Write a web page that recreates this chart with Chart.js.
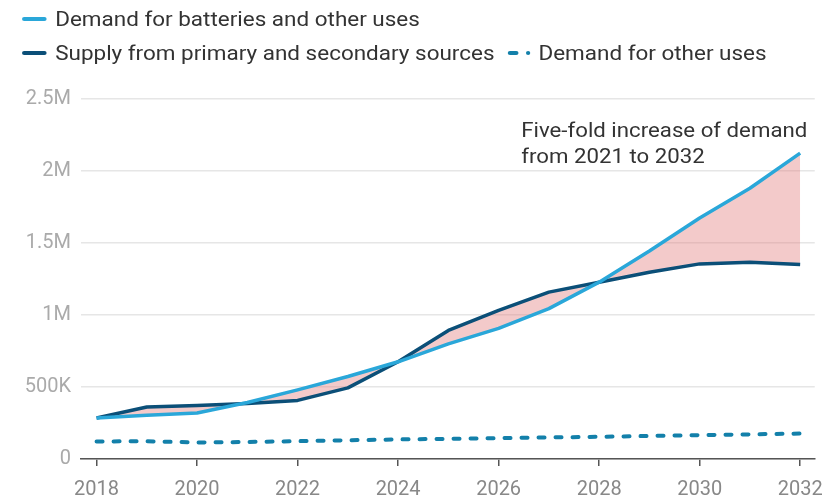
<!DOCTYPE html>
<html>
<head>
<meta charset="utf-8">
<script src="https://cdn.jsdelivr.net/npm/chart.js@4/dist/chart.umd.min.js"></script>
<style>
  html, body { margin: 0; padding: 0; background: #fff; }
  #wrap { position: relative; width: 835px; height: 498px; }
  #legend { position: absolute; left: 22px; top: 2px; font-family: Roboto, sans-serif; font-size: 21px; color: #333;
            transform: scaleX(1.07); transform-origin: 0 0; white-space: nowrap; }
  .row { display: flex; align-items: center; height: 34px; }
  .item { display: flex; align-items: center; margin-right: 12px; }
  .mk { display: inline-block; width: 23px; height: 4px; border-radius: 2px; margin-right: 8px; }
  .dash { display: inline-block; height: 4px; border-radius: 2px; background: #1380aa; }
</style>
</head>
<body>
<div id="wrap">
  <canvas id="chart" width="835" height="498"></canvas>
  <div id="legend">
    <div class="row">
      <div class="item"><span class="mk" style="background:#2aa7d9"></span>Demand for batteries and other uses</div>
    </div>
    <div class="row">
      <div class="item"><span class="mk" style="background:#0b4f78"></span>Supply from primary and secondary sources</div>
      <div class="item"><span class="dash" style="width:10px;margin-right:7px"></span><span class="dash" style="width:4px;margin-right:8px"></span>Demand for other uses</div>
    </div>
  </div>
</div>
<script>
  // values (tonnes)
  var years = [2018, 2019, 2020, 2021, 2022, 2023, 2024, 2025, 2026, 2027, 2028, 2029, 2030, 2031, 2032];
  var demandTotal = [285000, 303000, 319000, 392000, 480000, 573000, 675000, 800000, 907000, 1044000, 1228000, 1445000, 1674000, 1880000, 2124000];
  var supply = [285000, 361000, 372000, 386000, 407000, 494000, 675000, 893000, 1032000, 1159000, 1228000, 1297000, 1355000, 1366000, 1350000];
  var demandOther = [122000, 123000, 115000, 118000, 124000, 130000, 136000, 140000, 145000, 150000, 154000, 160000, 166000, 171000, 177000];
  var tickYears = [2018, 2020, 2022, 2024, 2026, 2028, 2030, 2032];
  var yTicks = [0, 500000, 1000000, 1500000, 2000000, 2500000];
  var noteLines = ['Five-fold increase of demand', 'from 2021 to 2032'];

  function points(vals) {
    return years.map(function(yr, i) {
      return { x: yr, y: vals[i] };
    });
  }

  function fmt(v) {
    if (v === 0) return '0';
    if (v >= 1000000) return (v / 1000000) + 'M';
    return (v / 1000) + 'K';
  }

  var pink = 'rgba(226,122,122,0.4)';

  var notePlugin = {
    id: 'note',
    afterDatasetsDraw: function(chart) {
      var ctx = chart.ctx;
      var x = chart.scales.x.getPixelForValue(2026.45);
      var y = chart.scales.y.getPixelForValue(2237000);
      ctx.save();
      ctx.translate(x, y);
      ctx.scale(1.14, 1);
      ctx.font = '19.5px Roboto';
      ctx.fillStyle = '#333';
      ctx.textBaseline = 'alphabetic';
      ctx.textAlign = 'left';
      noteLines.forEach(function(t, i) {
        ctx.fillText(t, 0, i * 26);
      });
      ctx.restore();
    }
  };

  new Chart(document.getElementById('chart'), {
    type: 'line',
    data: {
      datasets: [{
        label: 'Demand for batteries and other uses',
        data: points(demandTotal),
        borderColor: '#2aa7d9',
        borderWidth: 3.5,
        fill: { target: 1, above: pink, below: pink }
      }, {
        label: 'Supply from primary and secondary sources',
        data: points(supply),
        borderColor: '#0b4f78',
        borderWidth: 3.5,
        fill: false
      }, {
        label: 'Demand for other uses',
        data: points(demandOther),
        borderColor: '#1380aa',
        borderWidth: 4,
        borderDash: [6, 11],
        borderCapStyle: 'round',
        fill: false
      }]
    },
    options: {
      responsive: false,
      devicePixelRatio: 1,
      animation: false,
      layout: { padding: { top: 99, right: 18, left: 0, bottom: 0 } },
      elements: {
        point: { radius: 0, hoverRadius: 0 },
        line: { tension: 0, borderJoinStyle: 'round' }
      },
      plugins: {
        legend: { display: false },
        tooltip: { enabled: false },
        filler: { drawTime: 'beforeDatasetsDraw' }
      },
      scales: {
        x: {
          type: 'linear',
          min: 2017.69,
          max: 2032.29,
          afterBuildTicks: function(scale) {
            scale.ticks = tickYears.map(function(v) { return { value: v }; });
          },
          afterFit: function(scale) { scale.height = 39; },
          grid: { drawOnChartArea: false, tickLength: 7, color: '#555', lineWidth: 1.5 },
          border: { color: '#555', width: 1.5 },
          ticks: {
            color: '#888',
            font: { family: 'Roboto', size: 20 },
            padding: 12,
            maxRotation: 0,
            callback: function(v) { return String(v); }
          }
        },
        y: {
          min: 0,
          max: 2500000,
          afterBuildTicks: function(scale) {
            scale.ticks = yTicks.map(function(v) { return { value: v }; });
          },
          afterFit: function(scale) { scale.width = 81; },
          grid: { color: '#e6e6e6', lineWidth: 1.5, drawTicks: false },
          border: { display: false },
          ticks: {
            color: '#aaa',
            font: { family: 'Roboto', size: 20 },
            padding: 10,
            callback: function(v) { return fmt(v); }
          }
        }
      }
    },
    plugins: [notePlugin]
  });
</script>
</body>
</html>
